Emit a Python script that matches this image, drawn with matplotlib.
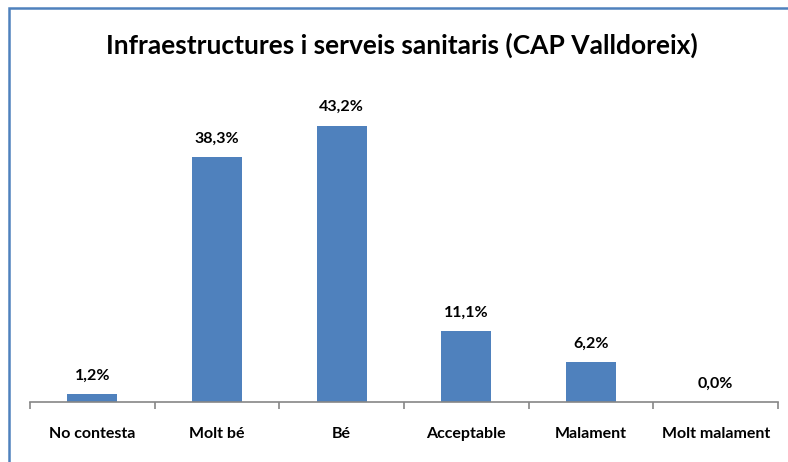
import matplotlib
matplotlib.use("Agg")
import matplotlib.pyplot as plt
from matplotlib.patches import Rectangle

categories = ["No contesta", "Molt bé", "Bé", "Acceptable", "Malament", "Molt malament"]
values = [1.2, 38.3, 43.2, 11.1, 6.2, 0.0]
labels = ["1,2%", "38,3%", "43,2%", "11,1%", "6,2%", "0,0%"]
title = "Infraestructures i serveis sanitaris (CAP Valldoreix)"

plt.rcParams['font.family'] = ['Lato', 'DejaVu Sans']

fig = plt.figure(figsize=(7.88, 4.62), dpi=100)
W, H = 788, 462
ax = fig.add_axes([30/W, 1-402/H, 748/W, 320/H])

x = list(range(len(categories)))
ax.bar(x, values, width=0.4, color="#4F81BD")
for xi, v, lab in zip(x, values, labels):
    ax.text(xi, v + 1.8, lab, ha="center", va="bottom", fontsize=11.5, fontweight="bold")

ax.set_xlim(-0.5, len(categories) - 0.5)
ax.set_ylim(0, 50)
for s in ["top", "right", "left"]:
    ax.spines[s].set_visible(False)
ax.spines["bottom"].set_color("#868686")
ax.spines["bottom"].set_linewidth(1.2)
ax.set_yticks([])
ax.set_xticks([i - 0.5 for i in range(len(categories) + 1)])
ax.set_xticklabels([])
ax.tick_params(axis="x", length=5, color="#868686", width=1.2)
ax.set_xticks(x, minor=True)
ax.set_xticklabels(categories, minor=True, fontsize=11.5, fontweight="bold")
ax.tick_params(axis="x", which="minor", length=0, pad=18)

fig.text(402/W, 1-45/H, title, ha="center", va="center", fontsize=19, fontweight="bold")

fig.patches.append(Rectangle((9/W, -0.1), 1.2, 1 - 8/H + 0.1, transform=fig.transFigure,
                             fill=False, edgecolor="#4F81BD", linewidth=1.8, figure=fig))

fig.savefig("out.png", dpi=100)
